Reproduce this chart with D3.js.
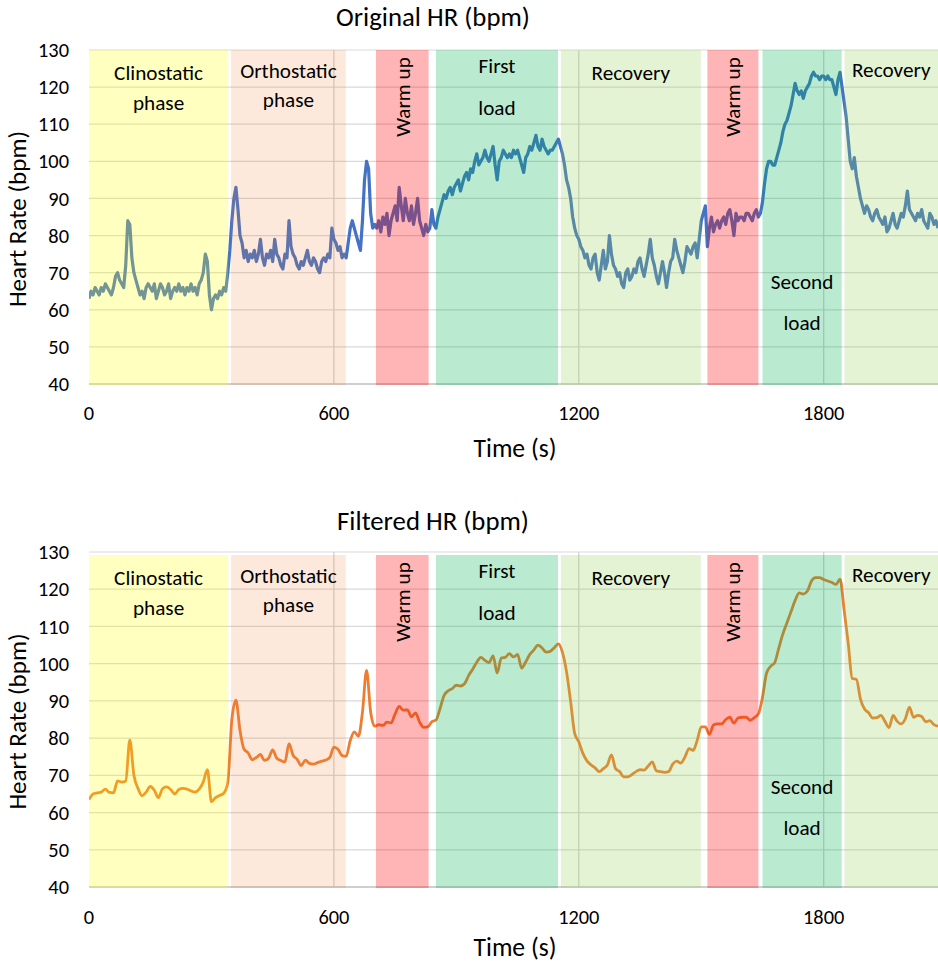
<!DOCTYPE html>
<html>
<head>
<meta charset="utf-8">
<script src="https://cdn.jsdelivr.net/npm/d3@7"></script>
<style>
  body { margin: 0; background: #fff; }
  text { font-family: Carlito, Calibri, Lato, "Open Sans", sans-serif; fill: #000; }
</style>
</head>
<body>
<svg id="chart" width="938" height="963"></svg>
<script>
// ---- axis ticks ----
const xTickValues = [0, 600, 1200, 1800];
const yTickValues = [40, 50, 60, 70, 80, 90, 100, 110, 120, 130];

// ---- raw heart rate, one value every 5 s from 0 s ----
const rawStepSec = 5;
const rawHR = [
  // clinostatic phase (0-340 s)
  63,65,64,66,65,64,66,65,67,66,
  65,64,66,69,70,68,67,66,72,84,
  83,74,70,68,66,64,65,63,66,67,
  66,65,67,63,65,67,66,64,65,67,
  63,65,66,65,67,65,66,64,66,65,
  67,65,66,64,67,68,70,75,73,64,
  60,63,64,63,65,64,66,65,70,
  // orthostatic phase (345-625 s)
  76,84,90,93,87,80,78,74,76,73,
  75,74,76,73,75,79,74,72,75,74,
  76,73,79,75,74,72,71,75,74,84,
  77,75,74,72,71,73,72,74,76,73,
  72,74,73,71,70,73,74,73,75,74,
  82,79,78,76,77,74,75,
  // transition (630-700 s)
  74,78,82,84,82,80,78,76,84,95,100,98,86,82,83,
  // warm up (705-845 s)
  82,84,81,85,83,86,80,84,86,88,
  84,93,88,84,90,86,84,88,83,86,
  90,84,82,80,83,81,82,87,83,
  // first load (850-1150 s)
  82,85,87,89,91,90,92,93,91,93,
  94,95,92,94,96,97,95,98,97,100,
  102,99,100,101,103,101,100,102,104,99,
  95,100,101,103,102,101,102,101,103,102,
  103,101,99,97,101,102,104,103,105,107,
  104,103,106,104,103,102,103,103,104,105,
  106,
  // recovery (1155-1500 s)
  104,102,99,95,93,90,85,82,80,79,
  77,76,74,75,72,71,74,75,70,68,
  72,76,71,73,80,75,72,71,69,70,
  67,66,70,71,68,69,71,70,73,74,
  71,69,72,75,79,74,72,69,67,70,
  73,70,66,70,73,74,79,76,74,72,
  70,73,77,76,75,77,78,74,79,84,
  // warm up (1505-1645 s)
  86,88,77,82,85,81,83,84,82,84,
  85,83,86,87,84,80,86,84,85,85,
  84,86,86,85,84,86,87,85,86,
  // second load (1650-1845 s)
  89,94,98,100,100,99,99,101,103,105,
  108,110,111,113,115,118,121,119,118,119,
  117,119,120,121,123,124,123,123,122,123,
  123,122,123,122,122,120,118,122,124,120,
  // recovery (1850-2080 s)
  116,112,106,100,98,101,96,93,90,88,
  86,88,87,85,84,86,87,85,84,83,
  85,81,82,84,86,83,82,84,86,85,
  88,92,87,86,85,84,86,85,87,84,
  83,82,86,85,83,84,82
];

// ---- filtered heart rate, one value every 10 s from 0 s ----
const filtStepSec = 10;
const filteredHR = [
  63.5,65,65.3,65.5,66.3,65.4,65.3,68.5,68.2,68.5,
  79.5,70,66.5,64.5,65.5,67,66,64,66.4,66.9,
  66.2,65,66.2,66.5,66.3,65.8,65.5,66.3,68.2,71.5,
  62.9,64,64.6,65.2,68,85,90.2,82,77,76,
  74.2,74.8,75.6,74,74.6,76.8,74.6,74,73.6,78.5,
  75.4,74.3,72.6,74.1,73.2,73,73.4,73.8,74.1,74.8,
  77.6,77,75.3,75.1,79.3,81.7,80.5,87,98.2,87,
  83.2,83.6,83.4,84.3,84.1,86.5,88.5,87.5,87.6,85.7,
  86.8,84.3,82.9,83,84.4,84.8,87.9,91.5,92.7,93.3,
  94.2,94,94.6,96.8,98.5,100.4,101.7,100.9,100.3,102.1,
  97.5,101.5,101.7,102.7,101.8,102.5,98.8,100.5,102.5,103.7,
  105,104.2,103.1,103.3,104.3,105.3,103,97.8,89.8,81.2,
  79,75.9,73.9,72.8,72,71,71.8,72.8,75.5,71.8,
  71,69.6,69.6,70.2,71,71.5,71.4,72.5,73.6,71.2,
  71,70.8,71,73,73.8,73.3,74.9,77.2,76.7,79.4,
  83,83,81,83.5,83.8,83.8,85,85.6,84,85.4,
  85.6,85.6,84.8,85.5,86.5,91,97.5,99.3,100.3,104.2,
  108,111,114,117,119,118.7,119.5,122.2,123.1,123.1,
  122.6,122.2,121.8,121.3,122.7,114.5,105.5,96,95.8,90.5,
  87.8,86.8,85.4,85.5,86.1,84.5,82.8,86.1,84.5,83.8,
  85.2,88.3,85.6,86.1,85.8,84.4,84.7,83.6,83.2
];

// ---- protocol phases (s) ----
const phaseNames  = ["Clinostatic phase", "Orthostatic phase", "Warm up", "First load", "Recovery", "Warm up", "Second load", "Recovery"];
const phaseKinds  = ["clino", "ortho", "warm", "load", "recov", "warm", "load", "recov"];
const phaseStarts = [0, 348, 703, 850, 1156, 1515, 1650, 1851];
const phaseEnds   = [341, 629, 832, 1149, 1499, 1640, 1844, 2080];

// ---- styling ----
// phase shading is laid over the trace, so the trace takes on the tint of each phase
const phaseFill = {
  clino: { color: "#ffff00", alpha: 0.25 },
  ortho: { color: "#ed7d31", alpha: 0.17 },
  warm:  { color: "#ff0000", alpha: 0.29 },
  load:  { color: "#00b050", alpha: 0.27 },
  recov: { color: "#92d050", alpha: 0.25 }
};
// label lines and their baselines (px below the top of the shaded band)
const phaseLabelLayout = [
  { lines: ["Clinostatic", "phase"], dy: [30, 60] },
  { lines: ["Orthostatic", "phase"], dy: [28, 57] },
  { lines: ["Warm up"], vertical: true, dy: [47] },
  { lines: ["First", "load"], dy: [23, 65] },
  { lines: ["Recovery"], dy: [30] },
  { lines: ["Warm up"], vertical: true, dy: [47] },
  { lines: ["Second", "load"], dy: [239, 280] },
  { lines: ["Recovery"], dy: [27] }
];

const panels = [
  { title: "Original HR (bpm)", values: rawHR, step: rawStepSec, stroke: "#4472c4", strokeWidth: 3.2,
    top: 50, bottom: 384, bandTop: 50, titleY: 26, tickY: 420, axisTitleY: 457 },
  { title: "Filtered HR (bpm)", values: filteredHR, step: filtStepSec, stroke: "#ed7d31", strokeWidth: 2.8,
    top: 552, bottom: 887, bandTop: 555, titleY: 530, tickY: 924, axisTitleY: 956 }
];

const svg = d3.select("#chart");

// font sizes chosen so that a reference string spans a given width
function sizeForWidth(str, width) {
  const t = svg.append("text").attr("font-size", 100).text(str);
  const w = t.node().getComputedTextLength();
  t.remove();
  return 100 * width / w;
}
const fontSize = {
  tick:  sizeForWidth("130", 31),
  title: sizeForWidth("Original HR (bpm)", 194),
  xAxis: sizeForWidth("Time (s)", 83),
  yAxis: sizeForWidth("Heart Rate (bpm)", 176),
  phase: sizeForWidth("Clinostatic", 89)
};

const plotLeft = 89, plotRight = 938;
const x = d3.scaleLinear().domain([0, 2080]).range([plotLeft, plotRight]);

panels.forEach((p, pi) => {
  const y = d3.scaleLinear().domain([40, 130]).range([p.bottom, p.top]);
  const g = svg.append("g");

  const clipId = "clip" + pi;
  svg.append("clipPath").attr("id", clipId)
    .append("rect").attr("x", plotLeft).attr("y", p.top - 10)
    .attr("width", plotRight - plotLeft).attr("height", p.bottom - p.top + 12);

  // horizontal gridlines
  g.append("g").selectAll("line").data(yTickValues.filter(v => v > 40)).join("line")
    .attr("x1", plotLeft).attr("x2", plotRight)
    .attr("y1", d => y(d)).attr("y2", d => y(d))
    .attr("stroke", "#d9d9d9").attr("stroke-width", 1.2);
  // vertical gridlines
  g.append("g").selectAll("line").data(xTickValues.filter(v => v > 0)).join("line")
    .attr("x1", d => x(d)).attr("x2", d => x(d))
    .attr("y1", p.top).attr("y2", p.bottom)
    .attr("stroke", "#cfcfcf").attr("stroke-width", 1.2);
  // baseline
  g.append("line").attr("x1", plotLeft).attr("x2", plotRight)
    .attr("y1", y(40)).attr("y2", y(40))
    .attr("stroke", "#bfbfbf").attr("stroke-width", 1.5);

  // heart-rate trace
  const line = d3.line()
    .x((d, i) => x(i * p.step))
    .y(d => y(d))
    .curve(pi === 0 ? d3.curveLinear : d3.curveMonotoneX);
  g.append("path").datum(p.values)
    .attr("clip-path", `url(#${clipId})`)
    .attr("fill", "none").attr("stroke", p.stroke)
    .attr("stroke-width", p.strokeWidth).attr("stroke-linejoin", "round")
    .attr("d", line);

  // phase shading over the trace
  const bands = g.append("g").attr("clip-path", `url(#${clipId})`);
  phaseNames.forEach((name, i) => {
    const f = phaseFill[phaseKinds[i]];
    bands.append("rect")
      .attr("x", x(phaseStarts[i])).attr("y", p.bandTop)
      .attr("width", x(phaseEnds[i]) - x(phaseStarts[i]))
      .attr("height", p.bottom - p.bandTop + 1)
      .attr("fill", f.color).attr("fill-opacity", f.alpha);
  });

  // phase labels
  phaseNames.forEach((name, i) => {
    const lay = phaseLabelLayout[i];
    const cx = x((phaseStarts[i] + phaseEnds[i]) / 2);
    if (lay.vertical) {
      g.append("text")
        .attr("transform", `translate(${cx},${p.bandTop + lay.dy[0]}) rotate(-90)`)
        .attr("text-anchor", "middle").attr("dy", "0.35em")
        .attr("font-size", fontSize.phase).text(lay.lines[0]);
    } else {
      lay.lines.forEach((t, k) => {
        g.append("text").attr("x", cx).attr("y", p.bandTop + lay.dy[k])
          .attr("text-anchor", "middle").attr("font-size", fontSize.phase).text(t);
      });
    }
  });

  // y tick labels
  g.append("g").selectAll("text").data(yTickValues).join("text")
    .attr("x", 69).attr("y", d => y(d)).attr("dy", "0.35em")
    .attr("text-anchor", "end").attr("font-size", fontSize.tick).text(d => d);
  // x tick labels
  g.append("g").selectAll("text").data(xTickValues).join("text")
    .attr("x", d => x(d)).attr("y", p.tickY)
    .attr("text-anchor", "middle").attr("font-size", fontSize.tick).text(d => d);

  // titles
  g.append("text").attr("x", 433).attr("y", p.titleY)
    .attr("text-anchor", "middle").attr("font-size", fontSize.title).text(p.title);
  g.append("text").attr("x", 515).attr("y", p.axisTitleY)
    .attr("text-anchor", "middle").attr("font-size", fontSize.xAxis).text("Time (s)");
  g.append("text")
    .attr("transform", `translate(26,${(p.top + p.bottom) / 2 + 2}) rotate(-90)`)
    .attr("text-anchor", "middle").attr("font-size", fontSize.yAxis).text("Heart Rate (bpm)");
});
</script>
</body>
</html>
